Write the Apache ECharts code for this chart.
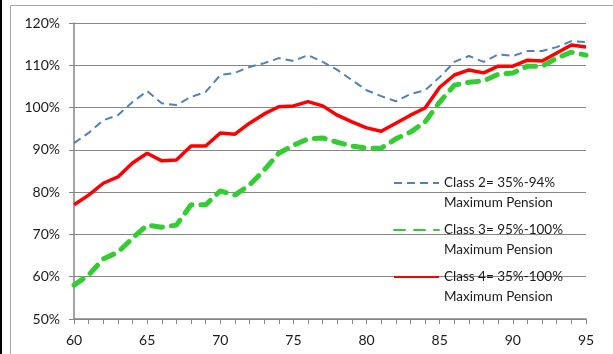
<!DOCTYPE html>
<html>
<head>
<meta charset="utf-8">
<script src="https://cdn.jsdelivr.net/npm/echarts@6/dist/echarts.min.js"></script>
<style>
  html, body { margin: 0; padding: 0; background: #fff; }
  #container { width: 613px; height: 354px; }
</style>
</head>
<body>
<div id="container"></div>
<script type="text/javascript">
    // ages 60..95
    var years = [];
    for (var a = 60; a <= 95; a++) years.push(String(a));

    var class2 = [91.6, 94.0, 97.0, 98.2, 101.3, 103.9, 101.0, 100.6, 102.5, 103.7,
        107.7, 108.2, 109.6, 110.5, 111.7, 111.0, 112.4, 110.8, 108.9, 106.5,
        104.1, 102.7, 101.5, 103.2, 104.1, 107.2, 110.8, 112.2, 110.8, 112.6,
        112.2, 113.4, 113.4, 114.3, 115.7, 115.5];
    var class3 = [58.0, 60.4, 64.2, 65.8, 69.1, 72.2, 71.7, 72.2, 77.0, 77.0,
        80.3, 79.3, 81.7, 85.2, 89.2, 91.1, 92.6, 92.8, 91.8, 90.9,
        90.4, 90.4, 92.6, 94.2, 96.6, 101.3, 105.3, 106.0, 106.3, 107.9,
        108.2, 109.8, 109.8, 111.7, 113.1, 112.4];
    var class4 = [77.0, 79.3, 82.1, 83.6, 86.9, 89.2, 87.4, 87.6, 90.9, 90.9,
        94.0, 93.7, 96.3, 98.5, 100.2, 100.4, 101.4, 100.4, 98.2, 96.6,
        95.2, 94.4, 96.3, 98.2, 99.9, 104.8, 107.7, 108.9, 108.2, 109.8,
        109.8, 111.2, 111.0, 112.9, 114.8, 114.3];

    var names = ['Class 2= 35%-94%\nMaximum Pension',
        'Class 3= 95%-100%\nMaximum Pension',
        'Class 4= 35%-100%\nMaximum Pension'];

    var font = 'Lato, "Open Sans", sans-serif';
    var axisGray = '#868686';

    // blank first line so the legend line sits next to the first text line
    function legendAt(name, top) {
        return {
            data: [name],
            left: 393,
            top: top,
            itemWidth: 45,
            itemHeight: 14,
            itemGap: 0,
            padding: 0,
            selectedMode: false,
            itemStyle: {opacity: 0},
            formatter: function (n) { return ' \n' + n; },
            textStyle: {
                fontFamily: font,
                fontSize: 13.5,
                color: '#1a1a1a',
                lineHeight: 20
            }
        };
    }

    var myChart = echarts.init(document.getElementById('container'));
    var option = {
        animation: false,
        backgroundColor: '#fff',
        grid: {left: 74, right: 27, top: 23, bottom: 35},
        graphic: [
            {type: 'rect', shape: {x: 0, y: 0, width: 2, height: 354}, style: {fill: '#000'}, silent: true},
            {type: 'rect', shape: {x: 10.5, y: 5.5, width: 620, height: 360},
                style: {fill: null, stroke: '#a6a6a6', lineWidth: 1}, silent: true}
        ],
        legend: [
            legendAt(names[0], 153),
            legendAt(names[1], 200),
            legendAt(names[2], 247)
        ],
        xAxis: {
            type: 'category',
            boundaryGap: false,
            data: years,
            axisLine: {lineStyle: {color: axisGray, width: 1.5}},
            axisTick: {interval: 0, length: 5, lineStyle: {color: axisGray}},
            axisLabel: {
                interval: 4,
                margin: 14,
                fontFamily: font,
                fontSize: 14,
                color: '#1a1a1a'
            },
            splitLine: {show: false}
        },
        yAxis: {
            type: 'value',
            min: 50,
            max: 120,
            interval: 10,
            axisLine: {show: true, lineStyle: {color: axisGray, width: 1.5}},
            axisTick: {show: true, length: 5, lineStyle: {color: axisGray}},
            axisLabel: {
                formatter: '{value}%',
                margin: 14,
                fontFamily: font,
                fontSize: 14,
                color: '#1a1a1a'
            },
            splitLine: {lineStyle: {color: axisGray, width: 1.2}}
        },
        series: [
            {
                name: names[0],
                type: 'line',
                data: class2,
                symbol: 'none',
                color: '#4f81bd',
                lineStyle: {color: '#4f81bd', width: 2, type: [8, 5]}
            },
            {
                name: names[1],
                type: 'line',
                data: class3,
                symbol: 'none',
                color: '#33cc33',
                lineStyle: {color: '#33cc33', width: 5, type: [11, 9], cap: 'round'}
            },
            {
                name: names[2],
                type: 'line',
                data: class4,
                symbol: 'none',
                color: '#ff0000',
                lineStyle: {color: '#ff0000', width: 3.5}
            }
        ]
    };
    myChart.setOption(option);
</script>
</body>
</html>
